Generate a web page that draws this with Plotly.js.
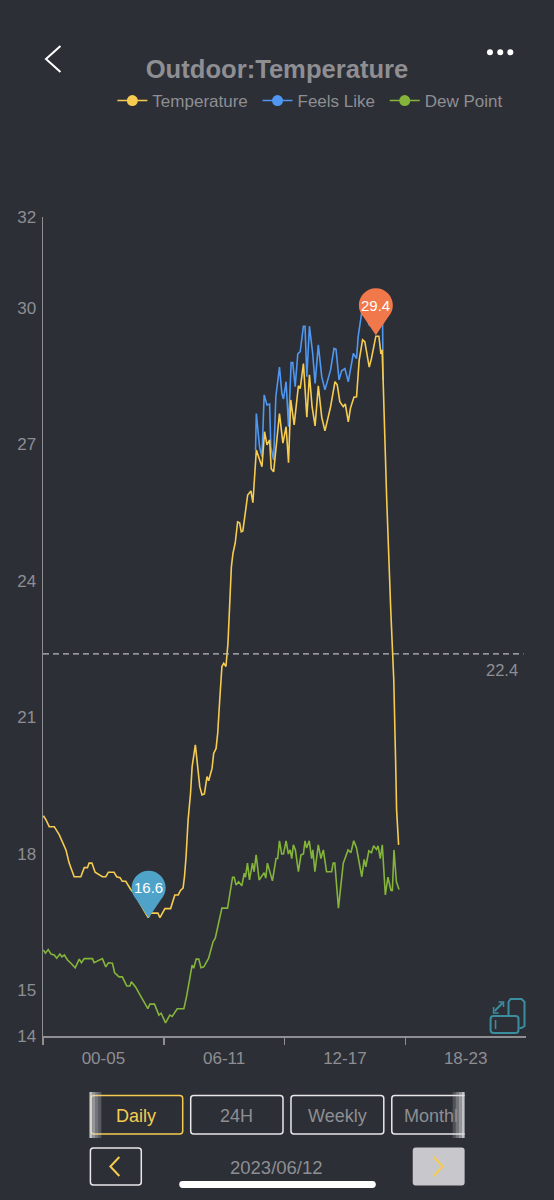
<!DOCTYPE html>
<html><head><meta charset="utf-8">
<script src="https://cdn.plot.ly/plotly-3.0.1.min.js"></script>
<style>html,body{margin:0;padding:0;background:#2c2f36;overflow:hidden}#c{width:554px;height:1200px}</style>
</head><body><div id="c"></div>
<script>
const seriesNames = ['Temperature','Feels Like','Dew Point'];
const xTickLabels = ['00-05','06-11','12-17','18-23'];
const xLabelPositions = [3,9,15,21];
const xTickPositions = [0,6,12,18];
const yTicks = [14,15,18,21,24,27,30,32];
const tempHours = [0.02,0.15,0.31,0.56,0.81,0.97,1.14,1.30,1.55,1.88,2.05,2.21,2.29,2.43,2.59,2.95,3.12,3.25,3.53,3.66,3.83,3.94,4.11,4.36,4.60,4.77,5.02,5.23,5.35,5.71,5.81,6.06,6.34,6.55,6.72,6.83,6.96,7.03,7.11,7.21,7.33,7.41,7.57,7.69,7.79,7.90,8.02,8.15,8.23,8.40,8.48,8.60,8.68,8.78,8.89,8.98,9.09,9.19,9.27,9.36,9.44,9.55,9.67,9.77,9.85,9.93,10.05,10.17,10.33,10.43,10.60,10.79,10.88,11.01,11.13,11.26,11.34,11.46,11.75,11.92,12.08,12.20,12.31,12.48,12.69,12.78,12.94,13.11,13.24,13.37,13.52,13.68,13.85,14.01,14.29,14.51,14.62,14.75,14.92,15.02,15.17,15.28,15.45,15.58,15.71,15.88,15.99,16.21,16.32,16.54,16.69,16.79,16.85,16.90,16.98,17.08,17.28,17.43,17.52,17.57,17.67];
const tempValues = [18.84,18.75,18.6,18.6,18.42,18.27,18.09,17.8,17.5,17.5,17.7,17.7,17.8,17.8,17.6,17.5,17.5,17.6,17.6,17.5,17.48,17.4,17.4,17.22,17.1,16.95,16.77,16.6,16.7,16.7,16.6,16.8,16.8,17.1,17.1,17.2,17.25,17.5,17.95,18.75,19.33,19.92,20.4,19.92,19.48,19.3,19.32,19.7,19.61,19.88,20.21,20.32,20.65,21.38,22.12,22.19,22.12,22.63,23.58,24.31,24.61,24.83,25.3,25.28,25.08,25.1,25.49,25.89,25.98,25.72,26.88,26.59,26.51,27.28,26.99,27.1,26.47,26.4,27.68,27.03,27.39,26.6,27.98,27.43,28.29,28.23,28.78,27.6,28.53,27.83,27.41,28.29,27.6,27.3,27.83,28.38,28.31,27.94,27.83,27.89,27.5,27.8,28.04,28.05,28.85,29.3,29.26,28.7,28.89,29.38,29.38,28.99,29.08,28.42,27.1,25.78,23.36,21.82,20.07,18.97,18.2];
const feelsHours = [10.56,10.60,10.76,10.88,10.99,11.13,11.26,11.32,11.46,11.57,11.75,11.87,11.95,12.08,12.20,12.33,12.41,12.53,12.66,12.78,12.94,13.02,13.11,13.24,13.40,13.52,13.68,13.85,14.01,14.29,14.46,14.56,14.71,14.84,15.00,15.17,15.42,15.58,15.66,15.83,15.99,16.21,16.40,16.65,16.87,16.90];
const feelsValues = [26.88,27.68,26.95,26.73,28.09,27.87,27.89,26.95,26.66,28.05,28.7,28.12,28.0,28.38,27.39,28.8,28.8,28.27,28.99,29.04,29.6,29.6,28.49,29.6,29.0,28.34,29.19,28.49,28.2,28.64,29.11,29.09,28.42,28.62,28.67,28.38,29.0,28.89,29.37,29.88,29.92,29.63,29.67,29.75,29.85,28.42];
const dewHours = [0.02,0.12,0.26,0.4,0.56,0.68,0.84,0.94,1.06,1.22,1.39,1.6,1.8,1.91,2.05,2.46,2.54,2.95,3.12,3.25,3.45,3.56,3.78,3.94,4.16,4.32,4.39,4.6,4.77,5.02,5.21,5.31,5.54,5.76,5.87,6.09,6.3,6.42,6.67,7.0,7.13,7.41,7.49,7.61,7.74,7.85,7.99,8.23,8.45,8.56,8.89,9.17,9.42,9.5,9.59,9.72,9.88,10.0,10.06,10.16,10.26,10.41,10.49,10.59,10.74,10.99,11.07,11.15,11.4,11.58,11.66,11.75,11.86,11.95,12.08,12.19,12.28,12.36,12.44,12.54,12.69,12.82,12.94,13.02,13.1,13.23,13.35,13.41,13.51,13.68,13.81,13.93,14.09,14.34,14.42,14.5,14.68,14.92,15.16,15.3,15.44,15.58,15.71,15.84,15.96,16.04,16.19,16.32,16.43,16.57,16.65,16.76,16.86,17.01,17.14,17.29,17.36,17.44,17.56,17.69];
const dewValues = [15.89,15.82,15.9,15.8,15.78,15.71,15.8,15.74,15.78,15.67,15.6,15.5,15.69,15.61,15.7,15.7,15.61,15.7,15.52,15.61,15.6,15.39,15.3,15.3,15.1,15.1,15.19,15.08,14.94,14.75,14.6,14.7,14.7,14.46,14.5,14.29,14.46,14.43,14.6,14.6,14.86,15.56,15.49,15.69,15.69,15.5,15.52,15.71,16.07,16.15,16.81,16.81,17.49,17.49,17.32,17.39,17.3,17.58,17.49,17.8,17.43,17.8,17.61,17.98,17.43,17.59,17.47,17.8,17.41,17.9,17.9,18.29,18.0,18.0,18.29,18.0,18.09,17.9,18.2,18.09,17.61,17.98,18.0,18.29,18.13,18.29,17.9,18.09,17.61,18.2,17.9,18.09,17.61,17.61,17.8,17.8,16.81,17.8,18.09,18.03,18.29,18.13,17.8,17.5,17.88,17.72,18.07,18.03,18.18,18.1,18.18,17.9,18.2,17.1,17.49,17.2,17.2,18.09,17.39,17.22];
const minPin = {hour:5.25, value:16.6};
const maxPin = {hour:16.54, value:29.4};
const averageValue = 22.4;
const dateLabel = '2023/06/12';
const tabLabels = ['Daily','24H','Weekly','Monthl'];

const BG='#2c2f36', GRAY='#8e8e93', YEL='#f5cc50', BLU='#4f97f0', GRN='#84b43a', TEAL='#3a8ea0';
const L=42.5,R=526.5,T=217,B=1036;
const X=p=>(p-L)/(R-L), Y=p=>(B-p)/(B-T);
const pts=a=>a.map((q,i)=>(i?'L':'M')+X(q[0]).toFixed(5)+','+Y(q[1]).toFixed(5)).join(' ');
const polyline=(a,color,w)=>({type:'path',xref:'paper',yref:'paper',path:pts(a),line:{color,width:w},fillcolor:'rgba(0,0,0,0)'});
const rrPts=(x0,y0,x1,y1,r)=>{
  const f=(x,y)=>X(x).toFixed(5)+','+Y(y).toFixed(5);
  return 'M'+f(x0+r,y0)+' L'+f(x1-r,y0)+' Q'+f(x1,y0)+' '+f(x1,y0+r)+' L'+f(x1,y1-r)+' Q'+f(x1,y1)+' '+f(x1-r,y1)+' L'+f(x0+r,y1)+' Q'+f(x0,y1)+' '+f(x0,y1-r)+' L'+f(x0,y0+r)+' Q'+f(x0,y0)+' '+f(x0+r,y0)+' Z';
};
const rrect=(x0,y0,x1,y1,r,color,w,fill)=>({type:'path',xref:'paper',yref:'paper',path:rrPts(x0,y0,x1,y1,r),line:{color:color||'rgba(0,0,0,0)',width:w||0},fillcolor:fill||'rgba(0,0,0,0)'});
const text=(t,px,py,size,color,extra)=>Object.assign({xref:'paper',yref:'paper',x:X(px),y:Y(py),text:t,showarrow:false,xanchor:'center',yanchor:'middle',font:{size,color,family:'Liberation Sans, Arial, sans-serif'}},extra||{});

function pin(hour,value,color){
  const path='M0,0 L-12.5,18.5 C-15.3,21.4 -17,25.5 -17,30 C-17,39.4 -9.4,47 0,47 C9.4,47 17,39.4 17,30 C17,25.5 15.3,21.4 12.5,18.5 Z';
  return {type:'path',xref:'x',yref:'y',xsizemode:'pixel',ysizemode:'pixel',xanchor:hour,yanchor:value,path,fillcolor:color,line:{width:0}};
}
const dot=(cx,cy)=>({type:'circle',xref:'paper',yref:'paper',x0:X(cx-3),x1:X(cx+3),y0:Y(cy-3),y1:Y(cy+3),fillcolor:'#fff',line:{width:0}});

const shapes=[
  {type:'line',xref:'paper',yref:'y',x0:0,x1:X(524),y0:averageValue,y1:averageValue,line:{color:'#b9bbbf',width:1.2,dash:'6px,4px'}},
  pin(minPin.hour,minPin.value,'#4fa3c9'),
  pin(maxPin.hour,maxPin.value,'#f0784a'),
  polyline([[60,46],[45.5,59],[60,72]],'#fff',2),
  dot(490.4,52.3),dot(500.7,52.3),dot(510.8,52.3),
  polyline([[509,1015],[509,1002],[511,999],[522,999],[525,1002],[525,1026],[522,1028],[520,1028]],TEAL,2),
  rrect(491,1016,519,1033,3,TEAL,2),
  polyline([[496,1020],[496,1029]],TEAL,1.5),
  polyline([[495,1011],[503,1003]],TEAL,2),
  polyline([[494,1007],[494,1013],[499,1013]],TEAL,1.5),
  polyline([[499,1002],[504,1002],[504,1007]],TEAL,1.5),
  rrect(90.5,1095.5,182.5,1134,3,YEL,1.5),
  rrect(190.5,1095.5,283,1134,3,'#e8e8ea',1.5),
  rrect(291,1095.5,384,1134,3,'#e8e8ea',1.5),
  rrect(392,1095.5,470,1134,3,'#e8e8ea',1.5),
  {type:'rect',xref:'paper',yref:'paper',x0:X(465),x1:X(480),y0:Y(1090),y1:Y(1140),fillcolor:BG,line:{width:0}},
];
[[89,92,.85],[92,95,.6],[95,98,.4],[98,101,.25]].forEach(a=>shapes.push({type:'rect',xref:'paper',yref:'paper',x0:X(a[0]),x1:X(a[1]),y0:Y(1092),y1:Y(1138),fillcolor:'#dcdcde',opacity:a[2],line:{width:0}}));
[[462,465,.85],[459,462,.6],[456,459,.4],[453,456,.2]].forEach(a=>shapes.push({type:'rect',xref:'paper',yref:'paper',x0:X(a[0]),x1:X(a[1]),y0:Y(1092),y1:Y(1138),fillcolor:'#dcdcde',opacity:a[2],line:{width:0}}));
shapes.push(
  rrect(90,1148,141,1185,3,'#e8e8ea',1.5),
  polyline([[119,1157],[110,1166.5],[119,1176]],YEL,2),
  rrect(413,1147.5,465,1185.5,3,null,0,'#c8c8cc'),
  polyline([[434,1157],[443,1166.5],[434,1176]],YEL,2),
  rrect(179,1181,376,1188,3.5,null,0,'#ffffff')
);

const annotations=[
  text(String(averageValue),502,670,16.5,GRAY),
  {xref:'x',yref:'y',x:minPin.hour,y:minPin.value,yshift:30,text:minPin.value.toFixed(1),showarrow:false,font:{size:15,color:'#fff',family:'Liberation Sans, Arial'}},
  {xref:'x',yref:'y',x:maxPin.hour,y:maxPin.value,yshift:30,text:maxPin.value.toFixed(1),showarrow:false,font:{size:15,color:'#fff',family:'Liberation Sans, Arial'}},
  text(tabLabels[0],135.5,1115.5,18,YEL),
  text(tabLabels[1],236,1115.5,18,GRAY),
  text(tabLabels[2],337.5,1115.5,18,GRAY),
  text(tabLabels[3],431.5,1115.5,18,GRAY),
  text(dateLabel,276.5,1167,18.5,GRAY),
];

const line=(x,y,color,w)=>({type:'scatter',mode:'lines',x,y,line:{color,width:w||1.6},showlegend:false,hoverinfo:'skip',cliponaxis:false});
const leg=(name,color)=>({type:'scatter',mode:'lines+markers',x:[null],y:[null],name:name+'\u00a0',line:{color,width:1.4},marker:{color,size:11},hoverinfo:'skip'});
const data=[
  line(feelsHours,feelsValues,BLU),
  line(dewHours,dewValues,GRN),
  line(tempHours,tempValues,YEL),
  leg(seriesNames[0],YEL),leg(seriesNames[1],BLU),leg(seriesNames[2],GRN)
];
const layout={
  width:554,height:1200,autosize:false,
  paper_bgcolor:BG,plot_bgcolor:BG,
  margin:{l:L,r:554-R,t:T,b:1200-B,pad:0},
  font:{family:'Liberation Sans, Arial, sans-serif',color:GRAY},
  title:{text:'Outdoor:Temperature',x:0.5,xanchor:'center',xref:'container',y:1-69/1200,yref:'container',yanchor:'middle',font:{size:25.6,color:GRAY,family:'Liberation Sans, Arial',weight:700}},
  showlegend:true,
  legend:{orientation:'h',x:X(112),y:Y(101),xanchor:'left',yanchor:'middle',font:{size:17,color:GRAY},bgcolor:'rgba(0,0,0,0)',itemwidth:30,itemclick:false,itemdoubleclick:false},
  xaxis:{range:[0,24],fixedrange:true,showgrid:false,zeroline:false,showline:true,linecolor:GRAY,linewidth:1.5,
    tickmode:'array',tickvals:xLabelPositions,ticktext:xTickLabels,ticks:'outside',ticklen:6,tickcolor:'rgba(0,0,0,0)',tickfont:{size:17,color:GRAY},
    minor:{tickmode:'array',tickvals:xTickPositions,ticks:'outside',ticklen:7,tickcolor:GRAY,tickwidth:1.5,showgrid:false}},
  yaxis:{range:[14,32],fixedrange:true,showgrid:false,zeroline:false,showline:true,linecolor:GRAY,linewidth:1.5,
    tickmode:'array',tickvals:yTicks,ticks:'',ticklabelstandoff:2,tickfont:{size:17,color:GRAY}},
  shapes,annotations
};
Plotly.newPlot('c',data,layout,{displayModeBar:false,staticPlot:true});
</script></body></html>
